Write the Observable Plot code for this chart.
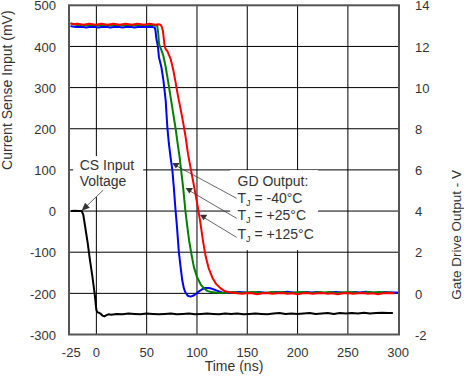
<!DOCTYPE html>
<html>
<head>
<meta charset="utf-8">
<script src="https://cdn.jsdelivr.net/npm/d3@7"></script>
<script src="https://cdn.jsdelivr.net/npm/@observablehq/plot@0.6"></script>
<style>
  html, body { margin: 0; padding: 0; background: #fff; overflow: hidden; }
  #chart { width: 464px; height: 379px; overflow: hidden; }
  #chart svg { display: block; width: 464px; height: 379px; max-width: none; }
</style>
</head>
<body>
<div id="chart"></div>
<script>
// ---------- data (time in ns, left-axis value in mV) ----------
const xTicks = [-25, 0, 50, 100, 150, 200, 250, 300];
const xGrid = [0, 50, 100, 150, 200, 250];
const yTicks = [-300, -200, -100, 0, 100, 200, 300, 400, 500];
const yGrid = [-200, -100, 0, 100, 200, 300, 400];

// CS input voltage (black)
const csInput = [
  [-24.5,0],[-21,1],[-18,0],[-16,0],[-14.5,0],[-13,-9],[-11,-40],[-8.5,-80],[-6.5,-117],[-4,-158],
  [-1.5,-205],[0,-240],[1,-246],[2.5,-247],[4,-249],[6,-254],[8,-256],[10,-253],[12,-251],[15,-252],
  [20,-250],[26,-251],[32,-249],[38,-250],[44,-251],[50,-249],[56,-250],[62,-251],[68,-250],[74,-249],
  [80,-251],[86,-250],[92,-249],[98,-251],[104,-250],[110,-249],[116,-250],[122,-251],[128,-249],[134,-250],
  [140,-249],[146,-251],[152,-250],[158,-249],[164,-250],[170,-251],[176,-249],[182,-248],[188,-250],[194,-249],
  [200,-250],[206,-249],[212,-248],[218,-250],[224,-249],[230,-248],[236,-250],[242,-248],[248,-249],[254,-248],
  [260,-249],[266,-247],[272,-249],[278,-248],[284,-247],[290,-248],[294,-248]
];

// Gate drive output, TJ = -40 C (blue)
const gdCold = [
  [-25,449],[-22,448],[-19,447],[-16,448],[-13,447],[-10,446],[-7,447],[-4,448],[-1,447],[2,446],
  [5,447],[8,448],[11,447],[14,446],[17,447],[20,448],[23,447],[26,446],[29,447],[32,448],
  [35,447],[38,446],[41,447],[44,448],[47,447],[50,447],[53,448],[56,447],[58,446],
  [58.8,438],[59.6,420],[61.2,399],[62.2,374],[64.6,350],[66.6,318],[68.9,269],[70.5,205],[72.1,163],[73.8,130],
  [75.5,100],[77.1,54],[78.6,5],[80,-35],[82,-100],[84,-142],[85.5,-170],[87,-188],[88.6,-198],[91,-206],
  [93.6,-208],[96,-206],[98.6,-202],[102,-195],[105.2,-190],[108.5,-187],[111.8,-187],[115,-189],[118.4,-192],[121.5,-195],
  [125,-198],[130,-199],[136,-198],[142,-197],[148,-198],[154,-199],[160,-197],[166,-198],[172,-199],[178,-197],
  [184,-198],[190,-196],[196,-198],[202,-199],[208,-197],[214,-198],[220,-197],[226,-199],[232,-198],[238,-197],
  [244,-198],[250,-199],[256,-197],[262,-198],[268,-196],[274,-198],[280,-199],[286,-197],[292,-198],[299,-198]
];

// Gate drive output, TJ = +25 C (green)
const gdRoom = [
  [-25,456],[-22,454],[-19,452],[-16,453],[-13,452],[-10,451],[-7,452],[-4,453],[-1,452],[2,451],
  [5,452],[8,453],[11,452],[14,451],[17,452],[20,453],[23,452],[26,451],[29,452],[32,453],
  [35,452],[38,451],[41,452],[44,453],[47,452],[50,452],[53,453],[56,452],[59,451],[60.5,450],
  [61.5,432],[62.3,406],[64.6,391],[66.5,378],[68.9,350],[71.3,315],[73.8,277],[76.3,238],[78.8,200],[81,160],
  [82.8,130],[84.2,100],[86.4,54],[88.5,0],[90.4,-38],[92.2,-72],[94.5,-105],[97,-137],[100,-160],[103.6,-178],
  [107,-188],[110.3,-194],[114,-197],[118.5,-198],[125,-199],[131,-198],[137,-197],[143,-199],[149,-198],[155,-197],
  [161,-198],[167,-199],[173,-197],[179,-198],[185,-197],[191,-199],[197,-198],[203,-197],[209,-198],[215,-199],
  [221,-197],[227,-198],[233,-197],[239,-199],[245,-198],[251,-197],[257,-198],[263,-199],[269,-197],[275,-198],
  [281,-197],[287,-198],[294,-198]
];

// Gate drive output, TJ = +125 C (red)
const gdHot = [
  [-25,455],[-22,454],[-19,455],[-16,454],[-13,453],[-10,454],[-7,455],[-4,454],[-1,453],[2,454],
  [5,455],[8,454],[11,453],[14,454],[17,455],[20,454],[23,453],[26,454],[29,455],[32,454],
  [35,453],[38,454],[41,455],[44,454],[47,453],[50,454],[53,455],[56,454],[59,453],[62,454],[63.8,453],
  [65,448],[66.2,437],[67.2,415],[67.9,400],[69,393],[70.5,389],[72,380],[73.8,370],[76.5,342],
  [78.8,312],[81.1,280],[83.8,247],[86.4,213],[88.7,180],[91,140],[94,100],[97.5,55],[99.5,28],[101.5,0],
  [103.5,-30],[105.8,-70],[108.6,-110],[111.5,-138],[115.3,-162],[119,-177],[123.5,-188],[128,-195],[133.4,-198],[140,-200],
  [145,-201],[150,-199],[155,-200],[160,-202],[165,-200],[170,-199],[175,-201],[180,-200],[185,-199],[190,-201],
  [195,-200],[200,-202],[205,-200],[210,-199],[215,-201],[220,-200],[225,-199],[230,-201],[235,-200],[240,-202],
  [245,-200],[250,-199],[255,-201],[260,-200],[265,-199],[270,-201],[275,-200],[280,-202],[285,-200],[290,-199],[295.5,-200]
];

// annotation texts: [label, x (ns), y (mV)]
const csLabels = [["CS Input", -16.6, 111], ["Voltage", -16.6, 71]];
const gdLabels = [["GD Output:", 140.3, 71.5], ["TJ = -40°C", 140.3, 31.5], ["TJ = +25°C", 140.3, -11.5], ["TJ = +125°C", 140.3, -57]];
// annotation backgrounds: [x1, x2, y1, y2]
const labelBoxes = [[-22.6, 47, 32.6, 132.3], [133.5, 220.9, -96.3, 98.3]];
// annotation arrows: [head x, head y, tail x, tail y]
const gdArrows = [[79.1, 110.5, 139.4, 30.9], [92.4, 49.7, 139.4, -17.7], [106.6, -15.3, 139.4, -63.9]];
const csArrow = [[-14.6, 0.5, 6.8, 50.9]];

// ---------- marks ----------
const font = "Arial, 'Liberation Sans', Helvetica, sans-serif";
const downTriangle = {
  draw(ctx) { ctx.moveTo(-3.7, -2.7); ctx.lineTo(3.7, -2.7); ctx.lineTo(0, 2.9); ctx.closePath(); }
};
const csHead = {
  draw(ctx) { ctx.moveTo(0, 0); ctx.lineTo(8.2, -3.0); ctx.lineTo(3.4, -8.0); ctx.closePath(); }
};

const chart = Plot.plot({
  width: 464,
  height: 379,
  marginLeft: 68.5,
  marginRight: 65.5,
  marginTop: 4.8,
  marginBottom: 45,
  x: {domain: [-27.2, 300.8]},
  y: {domain: [-300, 500]},
  style: {fontFamily: font, fontSize: "13px", color: "#333", background: "#fff"},
  marks: [
    Plot.gridX(xGrid, {stroke: "#000", strokeOpacity: 1, strokeWidth: 1}),
    Plot.gridY(yGrid, {stroke: "#000", strokeOpacity: 1, strokeWidth: 1}),
    Plot.rect(labelBoxes, {x1: d => d[0], x2: d => d[1], y1: d => d[2], y2: d => d[3], fill: "#fff"}),
    Plot.axisX(xTicks, {tickSize: 0, tickPadding: 13, fontSize: 13, label: null, tickFormat: d => String(d)}),
    Plot.axisY(yTicks, {anchor: "left", tickSize: 0, tickPadding: 13, fontSize: 13, dy: 1, label: null, tickFormat: d => String(d)}),
    Plot.axisY(yTicks, {anchor: "right", tickSize: 0, tickPadding: 16, fontSize: 13, dy: 1, label: null, tickFormat: d => String((d + 200) / 50)}),
    Plot.line(csInput, {x: d => d[0], y: d => d[1], stroke: "#000", strokeWidth: 2}),
    Plot.line(gdCold, {x: d => d[0], y: d => d[1], stroke: "#0000ff", strokeWidth: 2}),
    Plot.line(gdRoom, {x: d => d[0], y: d => d[1], stroke: "#008000", strokeWidth: 2}),
    Plot.line(gdHot, {x: d => d[0], y: d => d[1], stroke: "#ff0000", strokeWidth: 2}),
    Plot.frame({stroke: "#555", strokeWidth: 2}),
    Plot.link(gdArrows, {x1: d => d[0], y1: d => d[1], x2: d => d[2], y2: d => d[3], stroke: "#333", strokeWidth: 0.75}),
    Plot.dot(gdArrows, {x: d => d[0], y: d => d[1], symbol: downTriangle, fill: "#333", stroke: "none", r: 4}),
    Plot.link(csArrow, {x1: d => d[0], y1: d => d[1], x2: d => d[2], y2: d => d[3], stroke: "#333", strokeWidth: 0.75}),
    Plot.dot(csArrow, {x: d => d[0], y: d => d[1], symbol: csHead, fill: "#333", stroke: "none", r: 4}),
    Plot.text(csLabels, {x: d => d[1], y: d => d[2], text: d => d[0], textAnchor: "start", fontSize: 14, fill: "#333"}),
    Plot.text(gdLabels, {x: d => d[1], y: d => d[2], text: d => d[0], textAnchor: "start", fontSize: 14, fill: "#333"}),
    Plot.text(["Current Sense Input (mV)"], {frameAnchor: "left", dx: -61, rotate: -90, fontSize: 14, fill: "#333"}),
    Plot.text(["Gate Drive Output - V"], {frameAnchor: "right", dx: 58, rotate: -90, fontSize: 13.5, fill: "#333"}),
    Plot.text(["Time (ns)"], {frameAnchor: "bottom", dy: 36.7, fontSize: 14, fill: "#333"})
  ]
});

// subscript J in "TJ"
const SVGNS = "http://www.w3.org/2000/svg";
for (const t of chart.querySelectorAll("text")) {
  const s = t.textContent;
  if (s.startsWith("TJ")) {
    t.textContent = "";
    const a = document.createElementNS(SVGNS, "tspan"); a.textContent = "T";
    const b = document.createElementNS(SVGNS, "tspan"); b.textContent = "J";
    b.setAttribute("font-size", "9"); b.setAttribute("dy", "3");
    const c = document.createElementNS(SVGNS, "tspan"); c.textContent = s.slice(2);
    c.setAttribute("dy", "-3");
    t.append(a, b, c);
  }
}
document.getElementById("chart").append(chart);
</script>
</body>
</html>
